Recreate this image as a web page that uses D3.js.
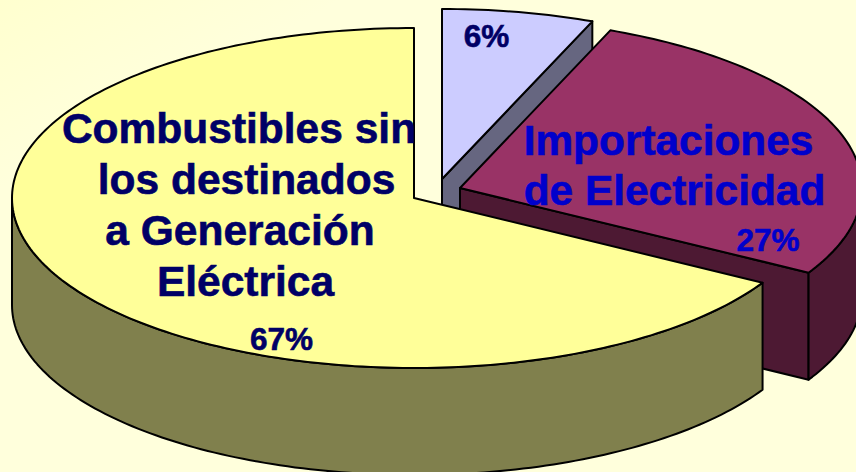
<!DOCTYPE html>
<html>
<head>
<meta charset="utf-8">
<script src="https://cdn.jsdelivr.net/npm/d3@7"></script>
<style>
  html, body { margin: 0; padding: 0; background: #ffffdc; overflow: hidden; }
  text { font-family: "Liberation Sans", Arial, sans-serif; font-weight: bold; }
</style>
</head>
<body>
<div id="chart"></div>
<script>
// slices, clockwise from 12 o'clock
const sliceShares = [6.1, 27.2, 66.7];
const topColors = ["#ccccff", "#993366", "#ffff99"];
const wallColors = ["#666680", "#4d1933", "#80804d"];

// wrapped names, as in the picture
const nameYellow = ["Combustibles sin", "los destinados", "a Generación", "Eléctrica"];
const nameRed = ["Importaciones", "de Electricidad"];

const width = 856, height = 472;
const rx = 402, ry = 170, depth = 107;

// where each slice apex ended up after being pulled out of the pie
const apex = [{x: 442, y: 179}, {x: 460, y: 188}, {x: 414, y: 198}];

const svg = d3.select("#chart").append("svg")
  .attr("width", width)
  .attr("height", height)
  .style("display", "block");

// faint darker cream in the top left corner
const grad = svg.append("defs").append("linearGradient")
  .attr("id", "bg").attr("x1", 0).attr("y1", 0).attr("x2", 1).attr("y2", 1);
grad.append("stop").attr("offset", 0).attr("stop-color", "#ffffcf");
grad.append("stop").attr("offset", 0.2).attr("stop-color", "#ffffdc");
svg.append("rect").attr("width", width).attr("height", height).attr("fill", "url(#bg)");

const pie = d3.pie().sort(null).value(d => d)(sliceShares);

// unit circle to the tilted ellipse
const scaleX = d3.scaleLinear().domain([-1, 1]).range([-rx, rx]);
const scaleY = d3.scaleLinear().domain([-1, 1]).range([ry, -ry]);

function rim(angle, c, drop) {
  return [c.x + scaleX(Math.sin(angle)), c.y + scaleY(Math.cos(angle)) + (drop || 0)];
}

function arcPoints(a0, a1, c, drop) {
  const n = Math.max(2, Math.ceil(Math.abs(a1 - a0) / 0.02));
  return d3.range(n + 1).map(i => rim(a0 + (a1 - a0) * i / n, c, drop));
}

const line = d3.line();
const FRONT_LEFT = Math.PI * 1.5, FRONT_RIGHT = Math.PI / 2;

function addShape(points, fill) {
  svg.append("path")
    .attr("d", line(points) + "Z")
    .attr("fill", fill)
    .attr("stroke", "#000")
    .attr("stroke-width", 2)
    .attr("stroke-linejoin", "round");
}

// back to front: blue, red, yellow
pie.forEach((s, i) => {
  const c = apex[i];

  // cut face on the clockwise side of the slice
  const end = rim(s.endAngle, c);
  if (s.endAngle < Math.PI) {
    addShape([[c.x, c.y], end, [end[0], end[1] + depth], [c.x, c.y + depth]], wallColors[i]);
  }

  // outer wall, only the part that faces the viewer
  const a0 = Math.max(s.startAngle, FRONT_RIGHT);
  const a1 = Math.min(s.endAngle, FRONT_LEFT);
  if (a1 > a0) {
    addShape(arcPoints(a0, a1, c).concat(arcPoints(a1, a0, c, depth)), wallColors[i]);
  }

  // top face
  addShape([[c.x, c.y]].concat(arcPoints(s.startAngle, s.endAngle, c)), topColors[i]);
});

function addLabels(lines, xs, ys, size, color) {
  svg.append("g").selectAll("text")
    .data(lines)
    .enter()
    .append("text")
      .attr("x", (d, i) => xs[i])
      .attr("y", (d, i) => ys[i])
      .attr("text-anchor", "middle")
      .attr("font-size", size)
      .attr("fill", color)
      .attr("stroke", color)
      .attr("stroke-width", 0.6)
      .text(d => d);
}

const pct = d => d3.format(".0f")(d) + "%";

addLabels(nameYellow, [239, 246.5, 240, 245.5], [143, 194, 245, 296], 42.5, "#000066");
addLabels(nameRed, [668.5, 674.5], [155, 205], 42.4, "#0000cc");
addLabels([pct(sliceShares[0])], [486.5], [47], 31.5, "#000066");
addLabels([pct(sliceShares[1])], [768], [251], 31.5, "#0000cc");
addLabels([pct(sliceShares[2])], [281.5], [350], 31.5, "#000066");
</script>
</body>
</html>
